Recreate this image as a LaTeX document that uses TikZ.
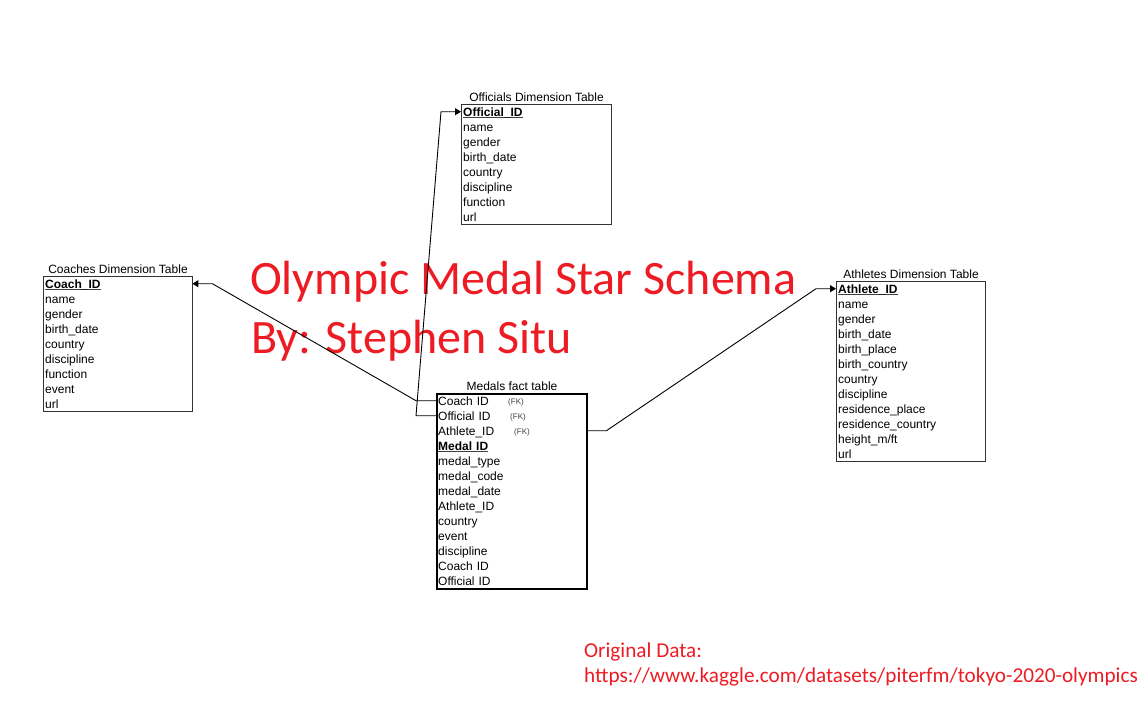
\documentclass[tikz,border=0pt]{standalone}
\usepackage{fontspec}
\setmainfont{Liberation Sans}
\newfontfamily\titlefont{Carlito}
\usetikzlibrary{arrows.meta}
\definecolor{titlered}{RGB}{237,28,36}
\newcommand\tabfont{\fontsize{12}{14}\selectfont}
\newcommand\fkfont{\fontsize{8}{9}\selectfont}
\newcommand\hdr[1]{\setbox0\hbox{\bfseries #1}\rlap{\color{black!75}\rule[-1.8pt]{\wd0}{0.9pt}}\box0}
\begin{document}
\begin{tikzpicture}[x=1pt,y=-1pt,
  tbox/.style={draw=black!80, line width=1pt, inner sep=0pt, anchor=north west},
  fbox/.style={draw=black, line width=2pt, inner sep=0pt, anchor=north west},
  row/.style={anchor=north west, inner xsep=2pt, inner ysep=0pt, text width=#1, align=left,
    minimum height=15pt, text height=10.5pt, text depth=1.5pt, font=\tabfont},
  ttl/.style={anchor=base, inner sep=0pt, font=\tabfont},
  fk/.style={anchor=base west, inner sep=0pt, font=\fkfont, text=black!75},
  big/.style={anchor=base west, inner sep=0pt, text=titlered, font=\titlefont\fontsize{48}{58}\selectfont},
  note/.style={anchor=base west, inner sep=0pt, text=titlered, font=\titlefont\fontsize{21.2}{25}\selectfont},
  conn/.style={draw=black, line width=0.9pt, -{Triangle[length=6pt,width=7pt]}}
]
\useasboundingbox (0,0) rectangle (1144,705);
\fill[white] (0,0) rectangle (1144,705);

% Officials
\node[tbox, minimum width=150pt, minimum height=120pt] (off) at (461,104) {};
\node[ttl] (offT) at ([yshift=3pt]off.north) {Officials Dimension Table};
\node[row=146pt] (o0) at (461,104) {\hdr{Official\_ID}};
\foreach \t [count=\i from 1] in {name,gender,birth\_date,country,discipline,function,url}
  \node[row=146pt] (o\i) at (461,{104+15*\i}) {\t};

% Coaches
\node[tbox, minimum width=149pt, minimum height=135pt] (coa) at (43,276) {};
\node[ttl] (coaT) at ([yshift=3pt]coa.north) {Coaches Dimension Table};
\node[row=145pt] (c0) at (43,276) {\hdr{Coach\_ID}};
\foreach \t [count=\i from 1] in {name,gender,birth\_date,country,discipline,function,event,url}
  \node[row=145pt] (c\i) at (43,{276+15*\i}) {\t};

% Athletes
\node[tbox, minimum width=149pt, minimum height=180pt] (ath) at (836,281) {};
\node[ttl] (athT) at ([yshift=3pt]ath.north) {Athletes Dimension Table};
\node[row=145pt] (a0) at (836,281) {\hdr{Athlete\_ID}};
\foreach \t [count=\i from 1] in {name,gender,birth\_date,birth\_place,birth\_country,country,discipline,residence\_place,residence\_country,height\_m/ft,url}
  \node[row=145pt] (a\i) at (836,{281+15*\i}) {\t};

% Medals fact table
\node[fbox, minimum width=150pt, minimum height=195pt] (med) at (436,393) {};
\node[ttl] (medT) at ([yshift=3pt]med.north) {Medals fact table};
\node[row=146pt] (m0) at (436,393) {Coach ID};
\node[row=146pt] (m1) at (436,408) {Official ID};
\node[row=146pt] (m2) at (436,423) {Athlete\_ID};
\node[row=146pt] (m3) at (436,438) {\hdr{Medal ID}};
\foreach \t [count=\i from 4] in {medal\_type,medal\_code,medal\_date,Athlete\_ID,country,event,discipline,Coach ID,Official ID}
  \node[row=146pt] (m\i) at (436,{393+15*\i}) {\t};
\node[fk] (fk0) at (508,404) {(FK)};
\node[fk] (fk1) at (510,419) {(FK)};
\node[fk] (fk2) at (514,434) {(FK)};

% Title and note
\node[big] (t1) at (250,294.5) {Olympic Medal Star Schema};
\node[big] (t2) at (251,353.5) {By: Stephen Situ};
\node[note] (n1) at (584,657) {Original Data:};
\node[note] (n2) at (584,682) {https://www.kaggle.com/datasets/piterfm/tokyo-2020-olympics};

% Connectors
\draw[conn] (m0.west) -- ++(-20,0) -- ([xshift=20pt]c0.east) -- (c0.east);
\draw[conn] (m1.west) -- ++(-20,0) -- ([xshift=-20pt]o0.west) -- (o0.west);
\draw[conn] (m2.east) -- ++(20,0) -- ([xshift=-20pt]a0.west) -- (a0.west);
\end{tikzpicture}
\end{document}
